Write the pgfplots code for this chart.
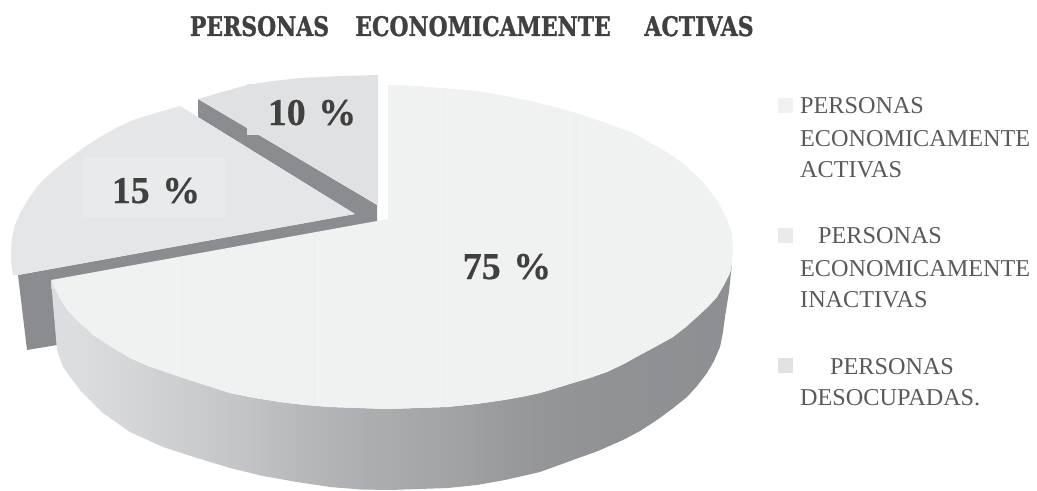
\documentclass[border=0pt]{standalone}
\usepackage{fontspec}
\setmainfont{Liberation Serif}
\newfontfamily\titlefont[BoldFeatures={FakeBold=1.2}]{DejaVu Serif}
\newfontfamily\pctfont[BoldFeatures={FakeBold=0.5}]{Liberation Serif}
\usepackage{pgfplots}
\pgfplotsset{compat=1.18}
\definecolor{slicea}{RGB}{240,241,241}
\definecolor{stripe}{RGB}{238,239,239}
\definecolor{sliceb}{RGB}{229,230,231}
\definecolor{slicec}{RGB}{224,225,227}
\definecolor{legb}{RGB}{233,234,235}
\definecolor{dark}{RGB}{139,140,143}
\definecolor{txt}{RGB}{89,89,89}
\definecolor{lab}{RGB}{64,64,64}
\definecolor{rectb}{RGB}{233,234,235}
% gradient along the outer wall
\pgfdeclarehorizontalshading{wallshade}{100bp}{
  rgb(0bp)=(.863,.868,.878); rgb(26.5bp)=(.863,.868,.878);
  rgb(29.6bp)=(.843,.848,.858); rgb(32.7bp)=(.816,.821,.831);
  rgb(35.8bp)=(.792,.797,.807); rgb(38.9bp)=(.765,.770,.780);
  rgb(41.9bp)=(.733,.738,.748); rgb(45.0bp)=(.702,.707,.717);
  rgb(48.1bp)=(.678,.683,.693); rgb(51.2bp)=(.655,.660,.670);
  rgb(54.3bp)=(.635,.640,.650); rgb(57.3bp)=(.608,.613,.623);
  rgb(60.4bp)=(.584,.589,.599); rgb(63.5bp)=(.573,.578,.588);
  rgb(66.6bp)=(.565,.570,.580); rgb(69.7bp)=(.561,.566,.576);
  rgb(72.7bp)=(.557,.562,.572); rgb(100bp)=(.557,.562,.572)}
\newcommand{\legtext}[1]{{\fontsize{24.3}{24.3}\selectfont\color{txt}#1}}
\newcommand{\pct}[1]{{\fontsize{38}{38}\selectfont\pctfont\bfseries\color{lab}#1}}
\newcommand{\ttl}[1]{\scalebox{0.815}[1]{\fontsize{27}{27}\selectfont\titlefont\bfseries\color{lab}#1}}
\begin{document}
\begin{tikzpicture}
\path[use as bounding box] (0,0) rectangle (1037bp,491bp);
\begin{axis}[
    at={(0,0)}, anchor=south west,
    width=1037bp, height=491bp, scale only axis,
    xmin=0, xmax=1037, ymin=0, ymax=491, y dir=reverse,
    hide axis, clip=false,
    every axis plot/.append style={mark=none, draw=none},
  ]
% dark side faces of the pulled-out slices
\addplot[fill=dark] coordinates {
  (198,99)(377,205)(377,224)(60,282)(57,345)(27,350)(18,275)(355,214)(198,117)
};
% 15 %
\addplot[fill=sliceb] coordinates {
  (355,214)(180,106)(156,113)(133,120)(116,128)(100,137)(83,148)(67,160)(53,171)
  (40,183)(29,198)(20,213)(15,225)(12,237)(11,250)(11,262)(13,275)(18,275)
};
% 10 %
\addplot[fill=slicec] coordinates {
  (378,205)(198,99)(222,92)(247,85)(273,81)(300,78)(340,76)(378,75)
};
% outer wall of the big slice
\addplot[shading=wallshade] coordinates {
  (51,280)(54,288)(61,300)(69,312)(81,324)(94,335.5)(110,346)(130,358)(148,366)
  (180,377)(205,385)(230,393)(255,398)(280,402)(305,405)(330,407)(358.5,408)
  (388,409)(417.5,408)(447,407)(476,404)(504,400)(540,393)(573,383)(607,372)
  (640,355)(673,337)(697,317)(717,297)(730,273)(732,263)
  (729,292)(725,317)(723,332)(720,347)(714,361)(707,373)(697,386)(687,397)
  (672,409)(657,420)(640,431)(623,440)(598,451)(573,460)(540,472)(505,480)
  (477,485)(448,488)(419,489)(390,490)(361,489.5)(330,487)(297,482)(263,476)
  (230,468)(197,458)(163,447)(130,432)(103,413)(80,390)(63,367)(57,350)
};
% top of the big slice, 75 %
\addplot[fill=slicea] coordinates {
  (388,219)(388,85)(417.5,86)(442,88)(476,91)(500,95)(531,101)(558,108)(573,112)
  (603,122)(633,133)(660,148)(683,163)(702,181)(717,200)(726,217)(732,233)
  (733,250)(732,263)(730,273)(724,285)(717,297)(708,307)(697,317)(686,327)
  (673,337)(657,346)(640,355)(624,364)(607,372)(590,378)(573,383)(557,388)
  (540,393)(522,397)(504,400)(476,404)(447,407)(417.5,408)(388,409)(358.5,408)
  (330,407)(305,405)(280,402)(255,398)(230,393)(205,385)(180,377)(155,368)
  (130,358)(110,346)(94,335.5)(81,324)(69,312)(61,300)(54,288)(51,280)
};
% faint stripes on the top faces
\addplot[fill=stripe] coordinates {(442,88)(446,89)(446,406)(442,407)};
\addplot[fill=stripe] coordinates {(573,112)(577,114)(577,381)(573,382)};
\addplot[fill=stripe] coordinates {(313,234)(316,234)(316,405)(313,405)};
\addplot[fill=stripe] coordinates {(180,258)(183,258)(183,377)(180,376)};
% label backgrounds
\addplot[fill=rectb] coordinates {(83,157)(225,157)(225,217)(83,217)};
\addplot[fill=slicec] coordinates {(247,84)(378,84)(378,135)(247,135)};
% legend keys
\addplot[fill=slicea] coordinates {(778,98)(793,98)(793,113)(778,113)};
\addplot[fill=legb] coordinates {(778,228)(793,228)(793,243)(778,243)};
\addplot[fill=slicec] coordinates {(778,358)(793,358)(793,373)(778,373)};

\node[anchor=base,inner sep=0pt] at (axis cs:259.5,36) {\ttl{PERSONAS}};
\node[anchor=base,inner sep=0pt] at (axis cs:483,36) {\ttl{ECONOMICAMENTE}};
\node[anchor=base,inner sep=0pt] at (axis cs:699,36) {\ttl{ACTIVAS}};
\node[anchor=base,inner sep=0pt] at (axis cs:507,279) {\pct{75\,\,\%}};
\node[anchor=base,inner sep=0pt] at (axis cs:156,203) {\pct{15\,\,\%}};
\node[anchor=base,inner sep=0pt] at (axis cs:312,125) {\pct{10\,\,\%}};
\node[anchor=base west,inner sep=0pt] at (axis cs:800,113) {\legtext{PERSONAS}};
\node[anchor=base west,inner sep=0pt] at (axis cs:800,146) {\legtext{ECONOMICAMENTE}};
\node[anchor=base west,inner sep=0pt] at (axis cs:800,177) {\legtext{ACTIVAS}};
\node[anchor=base west,inner sep=0pt] at (axis cs:818,243) {\legtext{PERSONAS}};
\node[anchor=base west,inner sep=0pt] at (axis cs:800,276) {\legtext{ECONOMICAMENTE}};
\node[anchor=base west,inner sep=0pt] at (axis cs:800,307) {\legtext{INACTIVAS}};
\node[anchor=base west,inner sep=0pt] at (axis cs:830,374) {\legtext{PERSONAS}};
\node[anchor=base west,inner sep=0pt] at (axis cs:800,405) {\legtext{DESOCUPADAS.}};
\end{axis}
\end{tikzpicture}
\end{document}
